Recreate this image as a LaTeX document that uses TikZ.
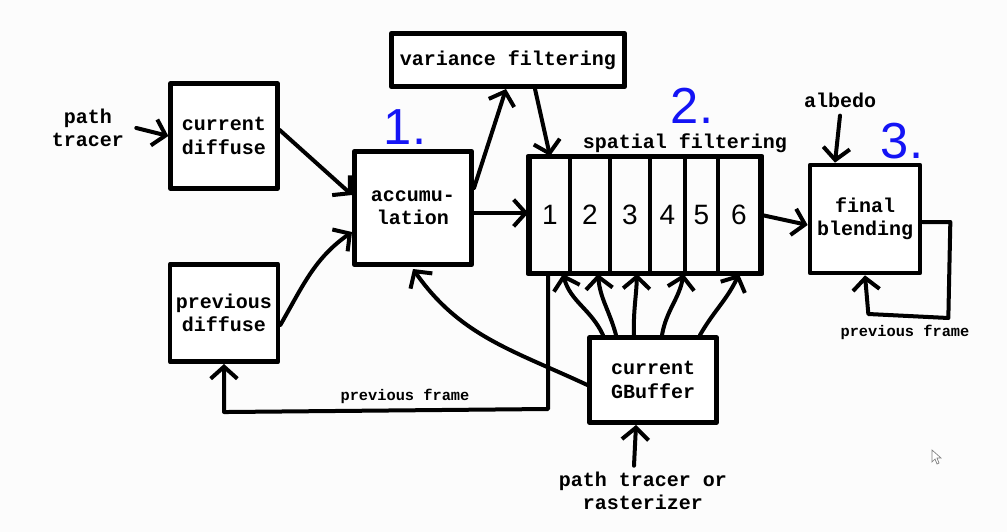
\documentclass[tikz,border=0pt]{standalone}
\usepackage{fontspec}
\setmainfont{Liberation Mono}
\newfontfamily\numfont{Liberation Sans}
\usetikzlibrary{arrows.meta,calc}
\definecolor{bluenum}{RGB}{20,20,245}
\definecolor{bgc}{RGB}{252,252,252}
\begin{document}
\begin{tikzpicture}[x=0.75pt,y=-0.75pt,
 box/.style={draw,line width=3.5pt,fill=white,inner sep=0pt,align=center,font=\bfseries\fontsize{15}{17.5}\selectfont,line join=round},
 lbl/.style={align=center,font=\bfseries\fontsize{15}{17.5}\selectfont,inner sep=0pt},
 small/.style={font=\bfseries\fontsize{11.5}{13}\selectfont,inner sep=0pt},
 num/.style={text=bluenum,font=\numfont\fontsize{38}{38}\selectfont,inner sep=0pt},
 cell/.style={draw,line width=2.5pt,inner sep=0pt,minimum height=86pt,font=\numfont\fontsize{21}{21}\selectfont},
 conn/.style={line width=3pt,line cap=round,line join=round,-{Straight Barb[length=9pt,width=20pt]}},
 plain/.style={line width=3pt,line cap=round,line join=round}]
\useasboundingbox[fill=bgc] (0,0) rectangle (1007,532);

% boxes
\node[box,minimum width=80pt,minimum height=79pt] (cd) at (224,136) {current\\diffuse};
\node[box,minimum width=88pt,minimum height=85pt] (acc) at (413,208) {accumu-\\lation};
\node[box,minimum width=175pt,minimum height=40pt] (var) at (508,60) {variance filtering};
\node[box,minimum width=81pt,minimum height=73pt] (pd) at (224,313) {previous\\diffuse};
\node[box,minimum width=82.5pt,minimum height=81pt] (fb) at (865,219) {final\\blending};
\node[box,minimum width=95pt,minimum height=64pt] (gb) at (653,380) {current\\GBuffer};

% spatial filtering cells
\node[cell,minimum width=30pt] (c1) at (550,215) {1};
\node[cell,minimum width=30pt] (c2) at (590,215) {2};
\node[cell,minimum width=30pt] (c3) at (630,215) {3};
\node[cell,minimum width=26.25pt] (c4) at (667.5,215) {4};
\node[cell,minimum width=24.75pt] (c5) at (701.5,215) {5};
\node[cell,minimum width=31.5pt] (c6) at (739,215) {6};
\draw[line width=3.5pt,line join=round] (c1.north west) rectangle (c6.south east);

% labels
\node[lbl] (pt) at (88,128) {path\\tracer};
\node[lbl] (alb) at (840,100) {albedo};
\node[lbl] (sf) at (685,143) {spatial filtering};
\node[lbl] (ptr) at (643,491) {path tracer or\\rasterizer};
\node[small] (pf1) at (405,396) {previous frame};
\node[small] (pf2) at (905,332) {previous frame};
\node[num] (n1) at (405,127) {1.};
\node[num] (n2) at (692,106) {2.};
\node[num] (n3) at (902,141) {3.};

% connectors
\draw[conn] ($(pt.east)+(12,0)$) -- (cd.west);
\draw[conn] ($(cd.east)+(0,-6)$) -- ($(acc.west)+(0,-13)$);
\draw[conn] ($(pd.east)+(0,12)$) to[out=60,in=215] ($(acc.west)+(0,24)$);
\draw[conn] ($(acc.east)+(0,-20)$) -- ($(var.south)+(-2,0)$);
\draw[conn] ($(var.south)+(27,0)$) -- (c1.north);
\draw[conn] ($(acc.east)+(0,5)$) -- ($(c1.west)+(0,-2)$);
\draw[conn] (c6.east) -- ($(fb.west)+(0,6)$);
\draw[conn] (alb.south) ++(0,8) coordinate (albs) (albs) -- ($(fb.north)+(-30,0)$);
\draw[conn] ($(fb.east)+(0,3)$) -- ++(28,0) -- ++(-2,96) -- ++(-80,-4) -- (fb.south);
\draw[conn] ($(c1.south)+(-2,0)$) -- ++(0,135) -- ++(-320,3) -| (pd.south);
\draw[conn] ($(gb.west)+(0,5)$) to[out=155,in=-55] ($(acc.south)+(0,2)$);
\draw[conn] ($(gb.north)+(-50,0)$) to[out=115,in=-75] ($(c1.south)+(13,0)$);
\draw[conn] ($(gb.north)+(-37,0)$) to[out=105,in=-85] ($(c2.south)+(8,0)$);
\draw[conn] ($(gb.north)+(-19,0)$) to[out=92,in=-92] ($(c3.south)+(7,0)$);
\draw[conn] ($(gb.north)+(9,0)$) to[out=80,in=-100] ($(c4.south)+(16,0)$);
\draw[conn] ($(gb.north)+(47,0)$) to[out=60,in=-115] (c6.south);
\draw[conn] ($(ptr.north)+(-9,-6)$) -- ($(gb.south)+(-17,0)$);

% mouse cursor
\draw[gray,line width=0.5pt,fill=white] (932,450) -- (932,462) -- (935,459) -- (937,464) -- (939,463) -- (937,458) -- (941,458) -- cycle;
\end{tikzpicture}
\end{document}
